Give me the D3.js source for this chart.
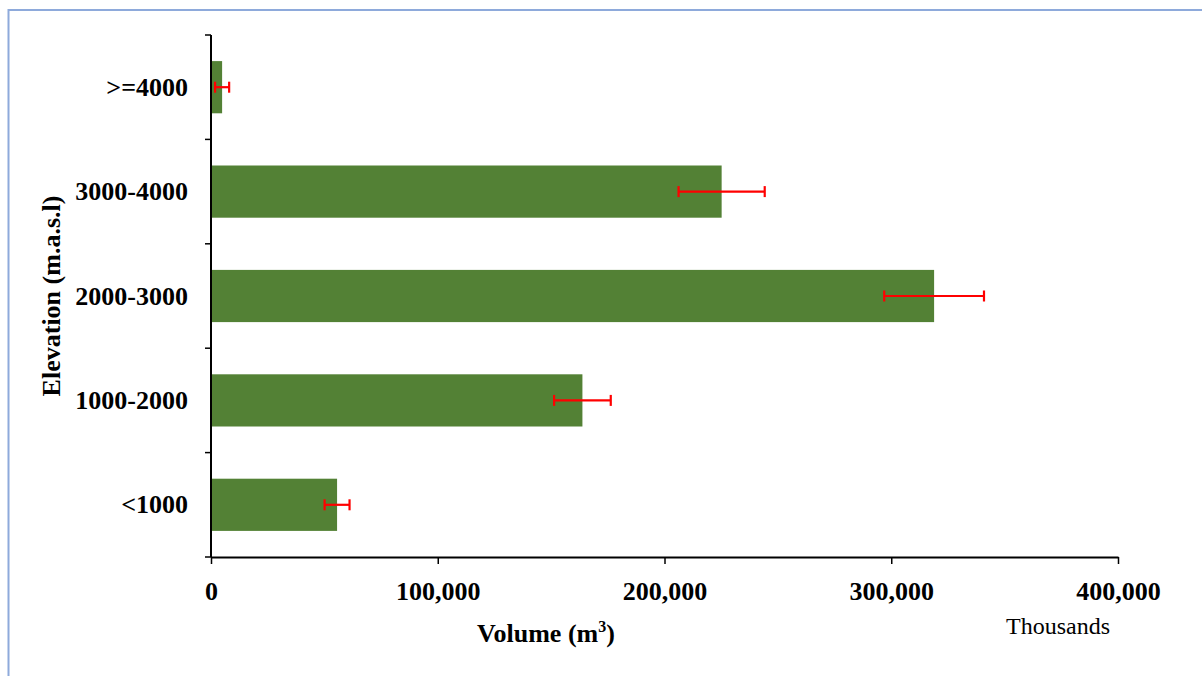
<!DOCTYPE html>
<html><head><meta charset="utf-8">
<script src="https://cdn.jsdelivr.net/npm/d3@7"></script>
<style>body{margin:0;background:#fff}svg{display:block}</style>
</head><body>
<svg id="chart" width="1202" height="676"></svg>
<script>
const categories = [">=4000", "3000-4000", "2000-3000", "1000-2000", "<1000"];
const volumes = [4900, 225200, 318900, 163800, 55600];
const errors = [3100, 19000, 22000, 12500, 5500];
const xTicks = [0, 100000, 200000, 300000, 400000];

(function () {
const svg = d3.select("#chart");
const font = "'Liberation Serif','Times New Roman',serif";

svg.append("rect").attr("x", 8.5).attr("y", 10).attr("width", 1300).attr("height", 800)
  .attr("fill", "none").attr("stroke", "#8eaadb").attr("stroke-width", 2);

const pLeft = 211, pRight = 1118, pTop = 35, pBottom = 557;
const x = d3.scaleLinear().domain([0, 400000]).range([pLeft, pRight]);
const y = d3.scaleBand().domain(categories).range([pTop, pBottom]).paddingInner(0.5).paddingOuter(0.25);
const band = d3.scaleBand().domain(categories).range([pTop, pBottom]);

// bars
svg.selectAll("rect.bar").data(categories).join("rect").attr("class", "bar")
  .attr("x", x(0)).attr("y", d => y(d))
  .attr("width", (d, i) => x(volumes[i]) - x(0)).attr("height", y.bandwidth())
  .attr("fill", "#538135");

// error bars
const eg = svg.append("g").attr("stroke", "#ff0000").attr("stroke-width", 2.2);
categories.forEach((c, i) => {
  const cy = y(c) + y.bandwidth() / 2;
  const x1 = x(volumes[i] - errors[i]), x2 = x(volumes[i] + errors[i]);
  eg.append("line").attr("x1", x1).attr("x2", x2).attr("y1", cy).attr("y2", cy);
  eg.append("line").attr("x1", x1).attr("x2", x1).attr("y1", cy - 5.5).attr("y2", cy + 5.5);
  eg.append("line").attr("x1", x2).attr("x2", x2).attr("y1", cy - 5.5).attr("y2", cy + 5.5);
});

// x axis
const xAxis = d3.axisBottom(x).tickValues(xTicks).tickSize(7).tickSizeOuter(0)
  .tickFormat(d3.format(","));
const gx = svg.append("g").attr("transform", `translate(0,${pBottom})`).call(xAxis);
gx.select(".domain").attr("stroke", "#000").attr("stroke-width", 2);
gx.selectAll(".tick line").attr("stroke", "#000").attr("stroke-width", 1.5);
gx.selectAll(".tick text").attr("font-family", font).attr("font-size", 26).attr("font-weight", "bold")
  .attr("fill", "#000").attr("y", 43).attr("dy", 0);

// y axis: domain line + ticks at band boundaries
const gy = svg.append("g");
gy.append("line").attr("x1", pLeft).attr("x2", pLeft).attr("y1", pTop).attr("y2", pBottom)
  .attr("stroke", "#000").attr("stroke-width", 2);
const boundaries = categories.map(c => band(c)).concat([pBottom]);
gy.selectAll("line.tk").data(boundaries).join("line").attr("class", "tk")
  .attr("x1", pLeft - 6).attr("x2", pLeft).attr("y1", d => d).attr("y2", d => d)
  .attr("stroke", "#000").attr("stroke-width", 1.5);
gy.selectAll("text").data(categories).join("text")
  .attr("x", 188).attr("y", d => y(d) + y.bandwidth() / 2).attr("dy", "0.33em")
  .attr("text-anchor", "end").attr("font-family", font).attr("font-size", 26).attr("font-weight", "bold")
  .text(d => d);

// titles
svg.append("text").attr("transform", "translate(60,296) rotate(-90)").attr("text-anchor", "middle")
  .attr("font-family", font).attr("font-size", 26).attr("font-weight", "bold").text("Elevation (m.a.s.l)");
const xt = svg.append("text").attr("x", 546).attr("y", 642).attr("text-anchor", "middle")
  .attr("font-family", font).attr("font-size", 26).attr("font-weight", "bold");
xt.append("tspan").text("Volume (m");
xt.append("tspan").attr("dy", -10).attr("font-size", 16).text("3");
xt.append("tspan").attr("dy", 10).text(")");
svg.append("text").attr("x", 1058).attr("y", 634).attr("text-anchor", "middle")
  .attr("font-family", font).attr("font-size", 24).text("Thousands");
})();
</script>
</body></html>
